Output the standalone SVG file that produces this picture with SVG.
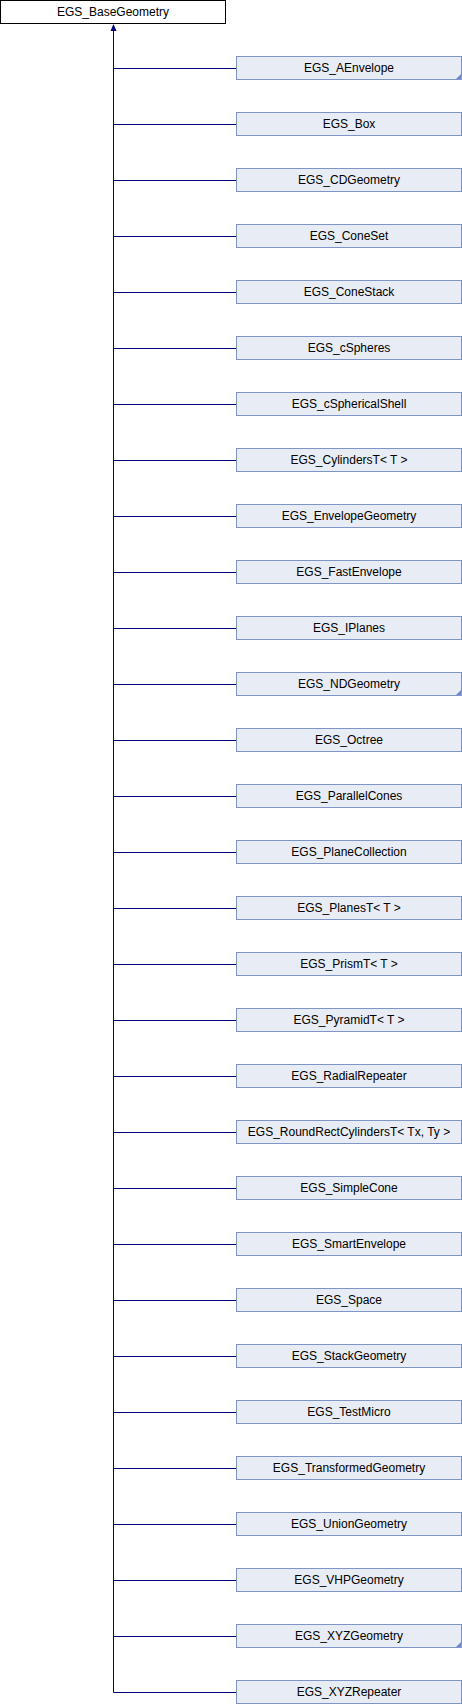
<svg xmlns="http://www.w3.org/2000/svg" width="462" height="1704" viewBox="0 0 462 1704">
<defs>
<style>
.base rect{fill:#ffffff;stroke:#000000;stroke-width:1}
.node rect{fill:#e8ecf5;stroke:#7f95c8;stroke-width:1}
.node polygon{fill:#6f8cc6}
text{font-family:"Liberation Sans",Arial,sans-serif;font-size:12px;fill:#000000;text-anchor:middle}
.edges line,.edges polyline{stroke:#000080;stroke-width:1;fill:none}
.arrow{fill:#000080}
</style>
</defs>
<rect x="0" y="0" width="462" height="1704" fill="#ffffff"/>
<g id="EGS_BaseGeometry" class="base"><rect x="0.5" y="0.5" width="225" height="23"/><text x="113" y="16">EGS_BaseGeometry</text></g>
<g id="connectors" class="edges">
<line x1="113.5" y1="29" x2="113.5" y2="1692.5"/>
<polygon class="arrow" points="113.5,24 110.5,31 116.5,31"/>
<line x1="113.5" y1="68.5" x2="236" y2="68.5"/>
<line x1="113.5" y1="124.5" x2="236" y2="124.5"/>
<line x1="113.5" y1="180.5" x2="236" y2="180.5"/>
<line x1="113.5" y1="236.5" x2="236" y2="236.5"/>
<line x1="113.5" y1="292.5" x2="236" y2="292.5"/>
<line x1="113.5" y1="348.5" x2="236" y2="348.5"/>
<line x1="113.5" y1="404.5" x2="236" y2="404.5"/>
<line x1="113.5" y1="460.5" x2="236" y2="460.5"/>
<line x1="113.5" y1="516.5" x2="236" y2="516.5"/>
<line x1="113.5" y1="572.5" x2="236" y2="572.5"/>
<line x1="113.5" y1="628.5" x2="236" y2="628.5"/>
<line x1="113.5" y1="684.5" x2="236" y2="684.5"/>
<line x1="113.5" y1="740.5" x2="236" y2="740.5"/>
<line x1="113.5" y1="796.5" x2="236" y2="796.5"/>
<line x1="113.5" y1="852.5" x2="236" y2="852.5"/>
<line x1="113.5" y1="908.5" x2="236" y2="908.5"/>
<line x1="113.5" y1="964.5" x2="236" y2="964.5"/>
<line x1="113.5" y1="1020.5" x2="236" y2="1020.5"/>
<line x1="113.5" y1="1076.5" x2="236" y2="1076.5"/>
<line x1="113.5" y1="1132.5" x2="236" y2="1132.5"/>
<line x1="113.5" y1="1188.5" x2="236" y2="1188.5"/>
<line x1="113.5" y1="1244.5" x2="236" y2="1244.5"/>
<line x1="113.5" y1="1300.5" x2="236" y2="1300.5"/>
<line x1="113.5" y1="1356.5" x2="236" y2="1356.5"/>
<line x1="113.5" y1="1412.5" x2="236" y2="1412.5"/>
<line x1="113.5" y1="1468.5" x2="236" y2="1468.5"/>
<line x1="113.5" y1="1524.5" x2="236" y2="1524.5"/>
<line x1="113.5" y1="1580.5" x2="236" y2="1580.5"/>
<line x1="113.5" y1="1636.5" x2="236" y2="1636.5"/>
<line x1="113.5" y1="1692.5" x2="236" y2="1692.5"/>
</g>
<g id="EGS_AEnvelope" class="node"><rect x="236.5" y="56.5" width="225" height="23"/><polygon points="461,74 461,79 456,79"/><text x="349" y="71.5">EGS_AEnvelope</text></g>
<g id="EGS_Box" class="node"><rect x="236.5" y="112.5" width="225" height="23"/><text x="349" y="127.5">EGS_Box</text></g>
<g id="EGS_CDGeometry" class="node"><rect x="236.5" y="168.5" width="225" height="23"/><text x="349" y="183.5">EGS_CDGeometry</text></g>
<g id="EGS_ConeSet" class="node"><rect x="236.5" y="224.5" width="225" height="23"/><text x="349" y="239.5">EGS_ConeSet</text></g>
<g id="EGS_ConeStack" class="node"><rect x="236.5" y="280.5" width="225" height="23"/><text x="349" y="295.5">EGS_ConeStack</text></g>
<g id="EGS_cSpheres" class="node"><rect x="236.5" y="336.5" width="225" height="23"/><text x="349" y="351.5">EGS_cSpheres</text></g>
<g id="EGS_cSphericalShell" class="node"><rect x="236.5" y="392.5" width="225" height="23"/><text x="349" y="407.5">EGS_cSphericalShell</text></g>
<g id="EGS_CylindersT" class="node"><rect x="236.5" y="448.5" width="225" height="23"/><text x="349" y="463.5">EGS_CylindersT&lt; T &gt;</text></g>
<g id="EGS_EnvelopeGeometry" class="node"><rect x="236.5" y="504.5" width="225" height="23"/><text x="349" y="519.5">EGS_EnvelopeGeometry</text></g>
<g id="EGS_FastEnvelope" class="node"><rect x="236.5" y="560.5" width="225" height="23"/><text x="349" y="575.5">EGS_FastEnvelope</text></g>
<g id="EGS_IPlanes" class="node"><rect x="236.5" y="616.5" width="225" height="23"/><text x="349" y="631.5">EGS_IPlanes</text></g>
<g id="EGS_NDGeometry" class="node"><rect x="236.5" y="672.5" width="225" height="23"/><polygon points="461,690 461,695 456,695"/><text x="349" y="687.5">EGS_NDGeometry</text></g>
<g id="EGS_Octree" class="node"><rect x="236.5" y="728.5" width="225" height="23"/><text x="349" y="743.5">EGS_Octree</text></g>
<g id="EGS_ParallelCones" class="node"><rect x="236.5" y="784.5" width="225" height="23"/><text x="349" y="799.5">EGS_ParallelCones</text></g>
<g id="EGS_PlaneCollection" class="node"><rect x="236.5" y="840.5" width="225" height="23"/><text x="349" y="855.5">EGS_PlaneCollection</text></g>
<g id="EGS_PlanesT" class="node"><rect x="236.5" y="896.5" width="225" height="23"/><text x="349" y="911.5">EGS_PlanesT&lt; T &gt;</text></g>
<g id="EGS_PrismT" class="node"><rect x="236.5" y="952.5" width="225" height="23"/><text x="349" y="967.5">EGS_PrismT&lt; T &gt;</text></g>
<g id="EGS_PyramidT" class="node"><rect x="236.5" y="1008.5" width="225" height="23"/><text x="349" y="1023.5">EGS_PyramidT&lt; T &gt;</text></g>
<g id="EGS_RadialRepeater" class="node"><rect x="236.5" y="1064.5" width="225" height="23"/><text x="349" y="1079.5">EGS_RadialRepeater</text></g>
<g id="EGS_RoundRectCylindersT" class="node"><rect x="236.5" y="1120.5" width="225" height="23"/><text x="349" y="1135.5">EGS_RoundRectCylindersT&lt; Tx, Ty &gt;</text></g>
<g id="EGS_SimpleCone" class="node"><rect x="236.5" y="1176.5" width="225" height="23"/><text x="349" y="1191.5">EGS_SimpleCone</text></g>
<g id="EGS_SmartEnvelope" class="node"><rect x="236.5" y="1232.5" width="225" height="23"/><text x="349" y="1247.5">EGS_SmartEnvelope</text></g>
<g id="EGS_Space" class="node"><rect x="236.5" y="1288.5" width="225" height="23"/><text x="349" y="1303.5">EGS_Space</text></g>
<g id="EGS_StackGeometry" class="node"><rect x="236.5" y="1344.5" width="225" height="23"/><text x="349" y="1359.5">EGS_StackGeometry</text></g>
<g id="EGS_TestMicro" class="node"><rect x="236.5" y="1400.5" width="225" height="23"/><text x="349" y="1415.5">EGS_TestMicro</text></g>
<g id="EGS_TransformedGeometry" class="node"><rect x="236.5" y="1456.5" width="225" height="23"/><text x="349" y="1471.5">EGS_TransformedGeometry</text></g>
<g id="EGS_UnionGeometry" class="node"><rect x="236.5" y="1512.5" width="225" height="23"/><text x="349" y="1527.5">EGS_UnionGeometry</text></g>
<g id="EGS_VHPGeometry" class="node"><rect x="236.5" y="1568.5" width="225" height="23"/><text x="349" y="1583.5">EGS_VHPGeometry</text></g>
<g id="EGS_XYZGeometry" class="node"><rect x="236.5" y="1624.5" width="225" height="23"/><polygon points="461,1642 461,1647 456,1647"/><text x="349" y="1639.5">EGS_XYZGeometry</text></g>
<g id="EGS_XYZRepeater" class="node"><rect x="236.5" y="1680.5" width="225" height="23"/><text x="349" y="1695.5">EGS_XYZRepeater</text></g>
</svg>
